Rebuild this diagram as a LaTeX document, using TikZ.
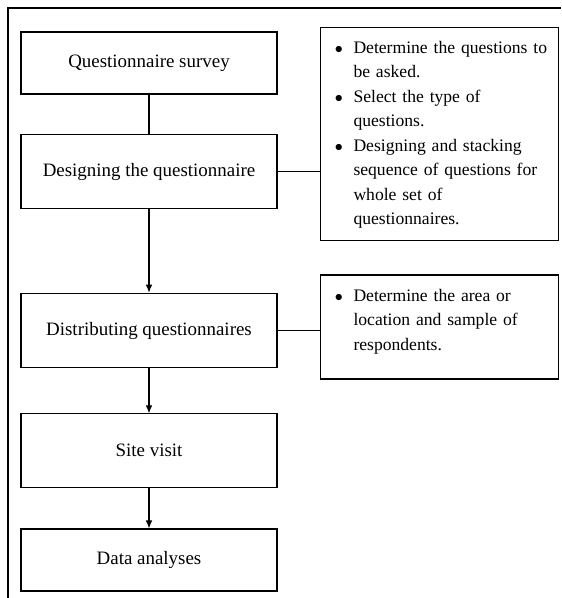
\documentclass[tikz,border=0pt]{standalone}
\usepackage{fontspec}
\setmainfont{Liberation Serif}
\usepackage{tikz}
\usetikzlibrary{arrows.meta}

\newcommand{\stepfont}{\fontsize{14.2}{17}\selectfont}
\newcommand{\notefont}{\fontsize{13.2}{18.4}\selectfont}
\newcommand{\notebullet}{$\bullet$}

\begin{document}
\begin{tikzpicture}[x=0.75pt,y=-0.75pt,
    stepbox/.style={draw,thick,minimum width=192pt,inner sep=0pt,font=\stepfont},
    notebox/.style={draw,thick,text width=157pt,align=left,inner xsep=11pt,inner ysep=0pt,font=\notefont},
    flow/.style={thick,-{Latex[length=6pt,width=5pt]}}]
    \useasboundingbox (0,0) rectangle (561,598);
    % outer frame
    \draw[thick] (8,598) -- (8,8) -- (561,8);

    % steps
    \begin{scope}[every node/.style={stepbox}]
        \node[minimum height=46.5pt] (survey) at (149,63) {Questionnaire survey};
        \node[minimum height=56pt] (design) at (149,171.5) {Designing the questionnaire};
        \node[minimum height=56pt] (distrib) at (149,330.5) {Distributing questionnaires};
        \node[minimum height=55pt] (visit) at (149,450.5) {Site visit};
        \node[minimum height=46.5pt] (analysis) at (149,560) {Data analyses};
    \end{scope}

    % notes
    \node[notebox,minimum height=160pt] (designnote) at (439.5,134) {%
        \begin{tabular}{@{}l@{\hspace{8pt}}l@{}}
        \notebullet & Determine the questions to\\
                    & be asked.\\
        \notebullet & Select the type of\\
                    & questions.\\
        \notebullet & Designing and stacking\\
                    & sequence of questions for\\
                    & whole set of\\
                    & questionnaires.
        \end{tabular}};
    \node[notebox,minimum height=78pt] (distribnote) at (439.5,327) {%
        \begin{tabular}{@{}l@{\hspace{8pt}}l@{}}
        \notebullet & Determine the area or\\
                    & location and sample of\\
                    & respondents.\\[9pt]
        \end{tabular}};

    % connectors
    \draw[thick] (survey) -- (design);
    \draw[flow] (design) -- (distrib);
    \draw[flow] (distrib) -- (visit);
    \draw[flow] (visit) -- (analysis);
    \draw[thick] (design.east) -- (designnote.west |- design.east);
    \draw[thick] (distrib.east) -- (distribnote.west |- distrib.east);
\end{tikzpicture}
\end{document}
